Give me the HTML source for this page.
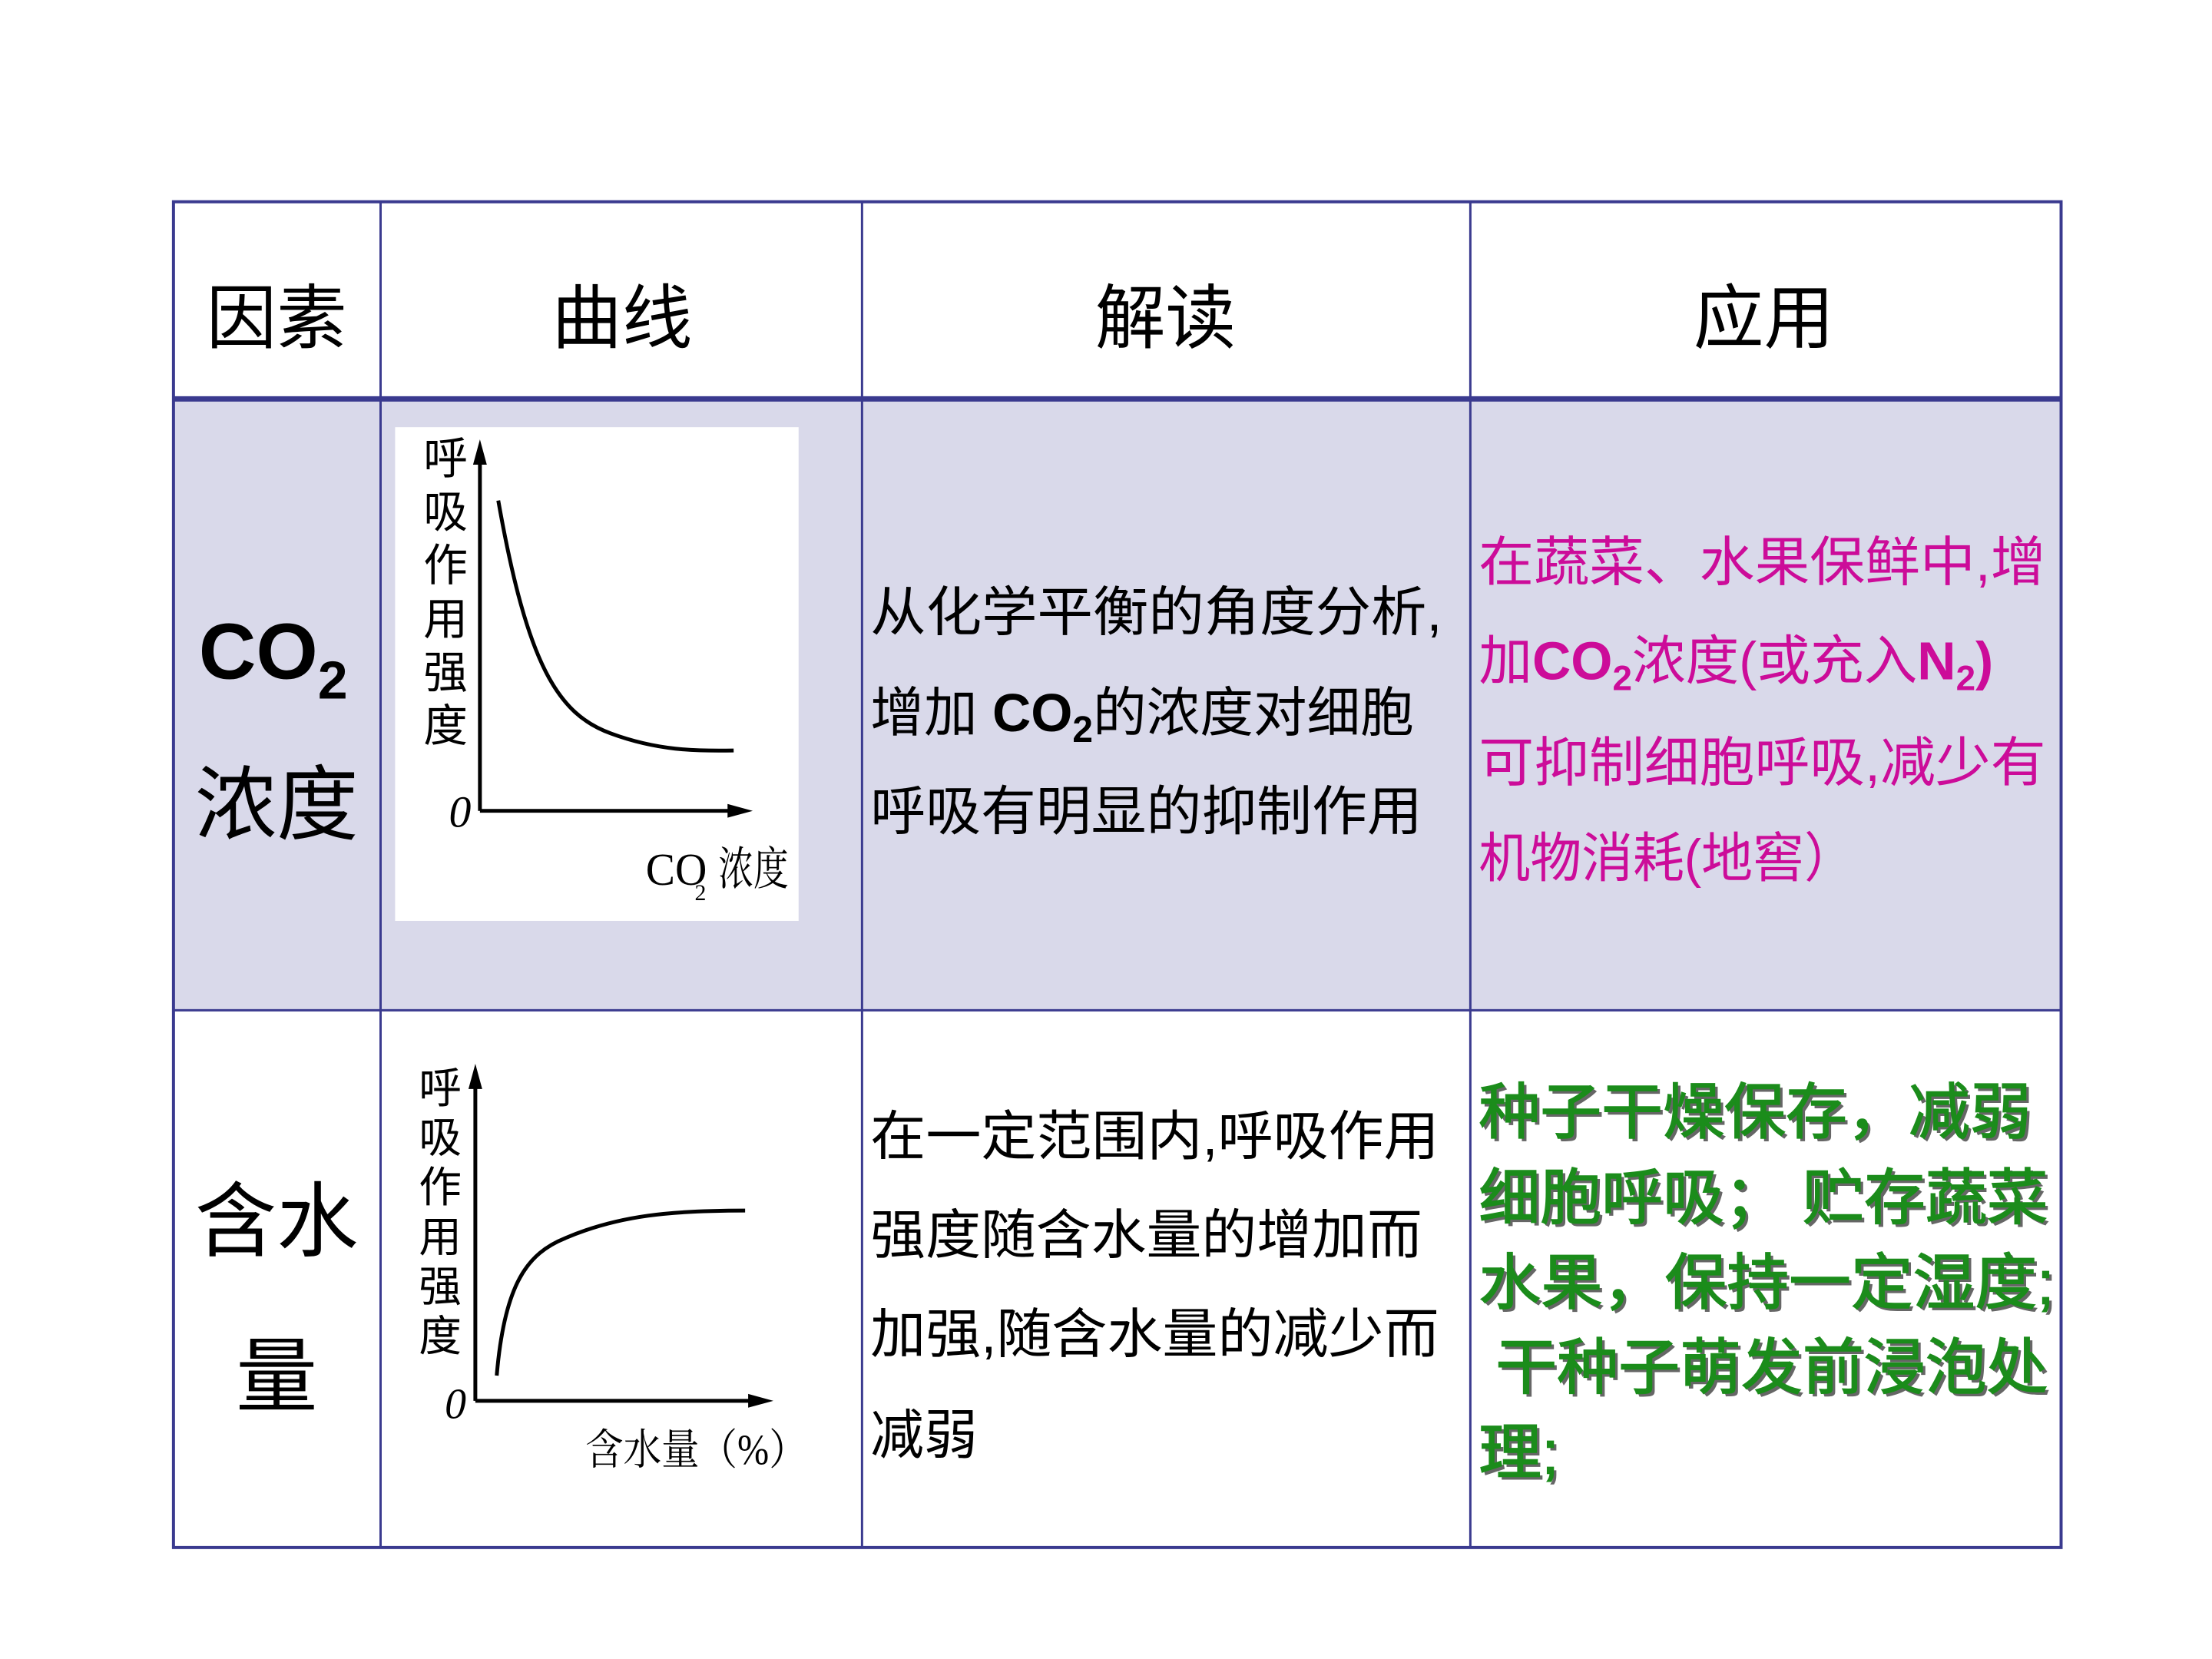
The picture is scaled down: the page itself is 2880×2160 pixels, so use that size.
<!DOCTYPE html>
<html><head><meta charset="utf-8"><style>
html,body{margin:0;padding:0;background:#fff;}
svg{display:block}
text{font-family:"Liberation Sans","Noto Sans CJK SC",sans-serif;}
.s{font-family:"Liberation Serif","Noto Serif CJK SC",serif;}
</style></head><body>
<svg width="2880" height="2160" viewBox="0 0 2880 2160" xmlns="http://www.w3.org/2000/svg">
<rect width="2880" height="2160" fill="#fff"/>
<g transform="scale(0.995)">
<rect x="227" y="522" width="2470" height="800" fill="#d9d9ea"/>
<g stroke="#3a3a8f" fill="none">
<rect x="227" y="264" width="2470" height="1761" stroke-width="4"/>
<line x1="227" y1="522" x2="2697" y2="522" stroke-width="7"/>
<line x1="227" y1="1322" x2="2697" y2="1322" stroke-width="3"/>
<line x1="498" y1="264" x2="498" y2="2025" stroke-width="3"/>
<line x1="1128" y1="264" x2="1128" y2="2025" stroke-width="3"/>
<line x1="1924" y1="264" x2="1924" y2="2025" stroke-width="3"/>
</g>
<g font-size="92" fill="#000" text-anchor="middle">
<text x="362" y="448">因素</text>
<text x="814" y="448">曲线</text>
<text x="1525" y="448">解读</text>
<text x="2308" y="448">应用</text>
</g>
<text x="260" y="888" font-size="104" font-weight="bold">CO<tspan font-size="70" dy="26">2</tspan></text>
<text x="362" y="1090" font-size="107" text-anchor="middle">浓度</text>
<text x="362" y="1635" font-size="107" text-anchor="middle">含水</text>
<text x="362" y="1838" font-size="107" text-anchor="middle">量</text>
<!-- chart 1 -->
<rect x="517" y="559" width="528" height="646" fill="#fff"/>
<line x1="628" y1="1061" x2="628" y2="600" stroke="#000" stroke-width="5"/>
<polygon points="628,575 619,608 637,608" fill="#000"/>
<line x1="628" y1="1061" x2="960" y2="1061" stroke="#000" stroke-width="5"/>
<polygon points="985,1061 952,1052 952,1070" fill="#000"/>
<path d="M652,655 C690,870 730,935 800,960 C860,982 910,983 960,982" stroke="#000" stroke-width="5" fill="none"/>
<g font-size="58" class="s" text-anchor="middle">
<text x="583" y="620">呼</text><text x="583" y="690">吸</text><text x="583" y="760">作</text><text x="583" y="830">用</text><text x="583" y="900">强</text><text x="583" y="970">度</text>
</g>
<text x="602" y="1082" font-size="58" font-style="italic" class="s" text-anchor="middle">0</text>
<text x="845" y="1158" font-size="60" class="s" textLength="80" lengthAdjust="spacingAndGlyphs">CO</text>
<text x="909" y="1178" font-size="30" class="s">2</text>
<text x="940" y="1158" font-size="60" class="s" textLength="92" lengthAdjust="spacingAndGlyphs">浓度</text>
<!-- chart 2 -->
<line x1="622" y1="1833" x2="622" y2="1415" stroke="#000" stroke-width="5"/>
<polygon points="622,1392 613,1425 631,1425" fill="#000"/>
<line x1="622" y1="1833" x2="990" y2="1833" stroke="#000" stroke-width="5"/>
<polygon points="1012,1833 979,1824 979,1842" fill="#000"/>
<path d="M650,1800 C660,1680 690,1640 740,1620 C810,1590 880,1584 975,1584" stroke="#000" stroke-width="5" fill="none"/>
<g font-size="56" class="s" text-anchor="middle">
<text x="576" y="1443">呼</text><text x="576" y="1508">吸</text><text x="576" y="1573">作</text><text x="576" y="1638">用</text><text x="576" y="1703">强</text><text x="576" y="1768">度</text>
</g>
<text x="596" y="1856" font-size="56" font-style="italic" class="s" text-anchor="middle">0</text>
<text x="766" y="1916" font-size="56" class="s" textLength="290" lengthAdjust="spacingAndGlyphs">含水量（%）</text>
<!-- middle text -->
<g font-size="70" fill="#000">
<text x="1139" y="825" textLength="748" lengthAdjust="spacingAndGlyphs">从化学平衡的角度分析,</text>
<text x="1139" y="957">增加 <tspan font-weight="bold">CO</tspan><tspan font-weight="bold" font-size="48" dy="14">2</tspan><tspan dy="-14">的浓度对细胞</tspan></text>
<text x="1139" y="1086" textLength="722" lengthAdjust="spacingAndGlyphs">呼吸有明显的抑制作用</text>
<text x="1139" y="1511" textLength="744" lengthAdjust="spacingAndGlyphs">在一定范围内,呼吸作用</text>
<text x="1139" y="1640" textLength="722" lengthAdjust="spacingAndGlyphs">强度随含水量的增加而</text>
<text x="1139" y="1770" textLength="744" lengthAdjust="spacingAndGlyphs">加强,随含水量的减少而</text>
<text x="1139" y="1902" textLength="140" lengthAdjust="spacingAndGlyphs">减弱</text>
</g>
<!-- pink -->
<g font-size="70" fill="#cc0c99">
<text x="1935" y="760" textLength="742" lengthAdjust="spacingAndGlyphs">在蔬菜、水果保鲜中,增</text>
<text x="1935" y="889">加<tspan font-weight="bold">CO</tspan><tspan font-weight="bold" font-size="46" dy="14">2</tspan><tspan dy="-14">浓度(或充入</tspan><tspan font-weight="bold">N</tspan><tspan font-weight="bold" font-size="46" dy="14">2</tspan><tspan dy="-14" font-weight="bold">)</tspan></text>
<text x="1935" y="1022" textLength="742" lengthAdjust="spacingAndGlyphs">可抑制细胞呼吸,减少有</text>
<text x="1935" y="1147" textLength="493" lengthAdjust="spacingAndGlyphs">机物消耗(地窖）</text>
</g>
<!-- green -->
<g font-size="80">
<g fill="#666" transform="translate(4,4)">
<text x="1935" y="1483" textLength="723" lengthAdjust="spacingAndGlyphs">种子干燥保存，减弱</text>
<text x="1935" y="1595" textLength="745" lengthAdjust="spacingAndGlyphs">细胞呼吸； 贮存蔬菜</text>
<text x="1935" y="1706" textLength="753" lengthAdjust="spacingAndGlyphs">水果，保持一定湿度;</text>
<text x="1957" y="1817" textLength="723" lengthAdjust="spacingAndGlyphs">干种子萌发前浸泡处</text>
<text x="1935" y="1928" textLength="105" lengthAdjust="spacingAndGlyphs">理;</text>
</g>
<g fill="#1b8c1b" stroke="#1b8c1b" stroke-width="1.5">
<text x="1935" y="1483" textLength="723" lengthAdjust="spacingAndGlyphs">种子干燥保存，减弱</text>
<text x="1935" y="1595" textLength="745" lengthAdjust="spacingAndGlyphs">细胞呼吸； 贮存蔬菜</text>
<text x="1935" y="1706" textLength="753" lengthAdjust="spacingAndGlyphs">水果，保持一定湿度;</text>
<text x="1957" y="1817" textLength="723" lengthAdjust="spacingAndGlyphs">干种子萌发前浸泡处</text>
<text x="1935" y="1928" textLength="105" lengthAdjust="spacingAndGlyphs">理;</text>
</g>
</g>
</g>
</svg>
</body></html>
